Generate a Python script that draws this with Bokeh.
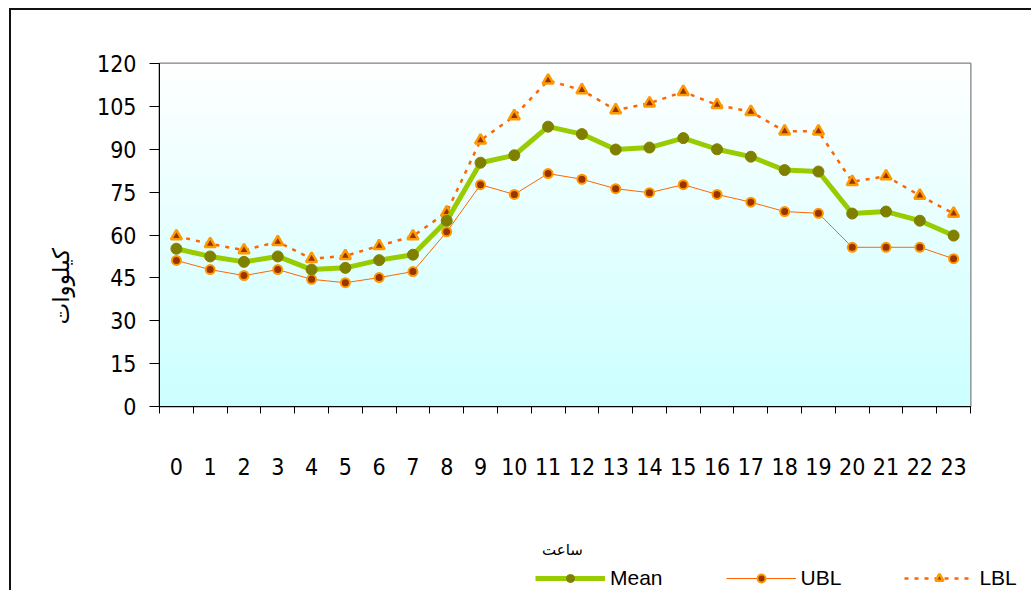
import numpy as np
from bokeh.plotting import figure
from bokeh.layouts import column
from bokeh.models import (Range1d, FixedTicker, LinearAxis, Legend, LegendItem, Title, Grid, Label)
from bokeh.embed import file_html
from bokeh.resources import INLINE

# ---- data -------------------------------------------------------------
hours = list(range(24))
hour_labels = [str(h) for h in hours]
mean = [55.2, 52.5, 50.6, 52.5, 47.9, 48.5, 51.2, 53.1, 65.0, 85.3, 87.9, 97.9,
        95.3, 89.9, 90.6, 93.9, 90.0, 87.4, 82.7, 82.2, 67.5, 68.2, 65.0, 59.8]
ubl = [51.1, 47.9, 45.8, 47.9, 44.5, 43.3, 45.1, 47.2, 61.1, 77.6, 74.2, 81.5,
       79.5, 76.2, 74.8, 77.6, 74.2, 71.5, 68.2, 67.6, 55.7, 55.7, 55.7, 51.7]
lbl = [59.6, 56.9, 54.7, 57.6, 51.7, 52.7, 56.2, 59.6, 68.0, 93.1, 101.6, 114.1,
       110.7, 103.7, 106.1, 110.1, 105.5, 103.1, 96.3, 96.3, 78.6, 80.6, 73.8, 67.5]
y_ticks = [0, 15, 30, 45, 60, 75, 90, 105, 120]
y_label = "کیلووات"
x_label = "ساعت"
series_names = ["Mean", "UBL", "LBL"]
series_values = {"Mean": mean, "UBL": ubl, "LBL": lbl}

NARROW = "Liberation Sans Narrow, Arial Narrow, DejaVu Sans Condensed, sans-serif"

# series styles
STY = {
    "Mean": dict(line=dict(line_color="#99cc00", line_width=5),
                 mark=dict(marker="circle", size=11, fill_color="#808000", line_color="#808000")),
    "UBL": dict(line=dict(line_color="#ff6600", line_width=1),
                mark=dict(marker="circle", size=9, fill_color="#993300", line_color="#ff9900", line_width=2)),
    "LBL": dict(line=dict(line_color="#ff6600", line_width=2.5, line_dash="4 6"),
                mark=dict(marker="triangle", size=11, fill_color="#993300", line_color="#ff9900", line_width=2.5)),
}

p = figure(width=1020, height=520, output_backend="svg", toolbar_location=None,
           x_range=Range1d(-0.5, 23.5), y_range=Range1d(0, 120),
           x_axis_type=None, y_axis_type=None,
           min_border_left=148, min_border_right=61, min_border_top=53, min_border_bottom=124)
p.frame_width = 811
p.frame_height = 343
p.frame_align = False
p.outline_line_color = "#808080"
p.outline_line_width = 2
p.background_fill_color = "white"

# gradient background (white top -> light cyan bottom)
rows = 343
t = np.linspace(0, 1, rows)[:, None]  # 0 bottom, 1 top
r = (204 + (255 - 204) * t).astype(np.uint32)
img = (np.uint32(255) << 24) | (np.uint32(255) << 16) | (np.uint32(255) << 8) | r
p.image_rgba(image=[img.astype(np.uint32)], x=-0.5, y=0, dw=24, dh=120)

# axes
yaxis = LinearAxis(ticker=FixedTicker(ticks=y_ticks))
yaxis.major_tick_out = 10
yaxis.major_tick_in = 0
yaxis.minor_tick_out = 0
yaxis.axis_line_color = "black"
yaxis.major_tick_line_color = "black"
yaxis.major_label_text_font = NARROW
yaxis.major_label_text_font_size = "23px"
yaxis.major_label_text_color = "black"
yaxis.major_label_standoff = 13
p.add_layout(yaxis, "left")

ytitle = Title(text=y_label, align="left", offset=82, vertical_align="middle", standoff=40,
               text_font="DejaVu Sans", text_font_size="23px", text_font_style="normal",
               text_color="black")
p.add_layout(ytitle, "left")

xaxis = LinearAxis(ticker=FixedTicker(ticks=hours, minor_ticks=[h - 0.5 for h in hours] + [23.5]))
xaxis.major_tick_out = 0
xaxis.major_tick_in = 0
xaxis.minor_tick_out = 7
xaxis.minor_tick_in = 0
xaxis.minor_tick_line_color = "black"
xaxis.axis_line_color = "black"
xaxis.major_label_overrides = {h: s for h, s in zip(hours, hour_labels)}
xaxis.major_label_text_font = NARROW
xaxis.major_label_text_font_size = "23px"
xaxis.major_label_text_color = "black"
xaxis.major_label_standoff = 44
p.add_layout(xaxis, "below")

# grid
grid = Grid(dimension=1, ticker=FixedTicker(ticks=y_ticks[1:-1]))
grid.grid_line_color = "#a3a36b"
grid.grid_line_dash = "3 2"
grid.grid_line_width = 1
p.add_layout(grid)

# series
for name in ["LBL", "UBL", "Mean"]:
    p.line(hours, series_values[name], **STY[name]["line"])
    p.scatter(hours, series_values[name], **STY[name]["mark"])

# ---- lower strip: x-axis title + legend ---------------------------------
# ranges chosen so that the legend's proxy renderers fall outside the view
q = figure(width=1020, height=60, output_backend="svg", toolbar_location=None,
           x_range=Range1d(1000, 1001), y_range=Range1d(1000, 1001),
           x_axis_type=None, y_axis_type=None,
           min_border_left=0, min_border_right=0, min_border_top=0, min_border_bottom=0)
q.frame_align = False
q.outline_line_color = None
q.background_fill_color = "white"
q.border_fill_color = "white"

q.add_layout(Label(x=551, y=41, x_units="screen", y_units="screen", text=x_label,
                   text_align="center", text_baseline="middle",
                   text_font="DejaVu Sans", text_font_size="15px", text_color="black"))

items = []
for name in series_names:
    lr = q.line(hours, series_values[name], **STY[name]["line"])
    sr = q.scatter(hours, series_values[name], **STY[name]["mark"])
    items.append(LegendItem(label=name, renderers=[lr, sr]))

legend = Legend(items=items, orientation="horizontal", location=(524, 0))
legend.glyph_width = 70
legend.glyph_height = 20
legend.label_height = 20
legend.label_standoff = 5
legend.spacing = 63
legend.padding = 0
legend.margin = 0
legend.border_line_color = None
legend.background_fill_alpha = 0
legend.label_text_font = "Liberation Sans, Arial, sans-serif"
legend.label_text_font_size = "21px"
legend.label_text_color = "black"
q.add_layout(legend, "center")

layout = column(p, q, spacing=0)
layout.styles = {"border-top": "2px solid #111", "border-left": "2px solid #111",
                 "margin-left": "9px", "margin-top": "8px"}

open("out.html", "w").write(file_html(layout, INLINE))
